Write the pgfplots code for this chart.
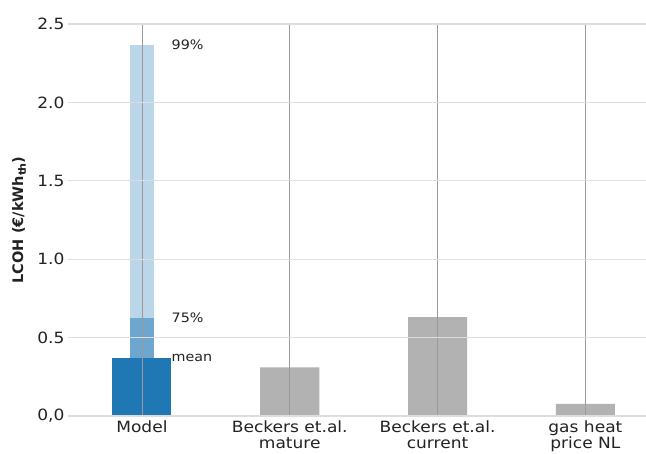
\documentclass[border=0pt]{standalone}
\usepackage{pgfplots}
\pgfplotsset{compat=1.18}
\usepackage{fontspec}
\setmainfont{DejaVu Sans}[FakeStretch=1.1]
\setsansfont{DejaVu Sans}[FakeStretch=1.1]
\newfontfamily\labelfont{DejaVu Sans}

\definecolor{modelblue}{HTML}{1F77B4}
\definecolor{refgray}{HTML}{B2B2B2}
\definecolor{vgrid}{HTML}{9A9A9A}
\definecolor{hgrid}{HTML}{DDDDDD}
\definecolor{labelgray}{HTML}{222222}

\begin{document}
\begin{tikzpicture}
\begin{axis}[
  at={(0pt,0pt)}, anchor=south west,
  scale only axis,
  width=578pt, height=392pt,
  xmin=-0.5, xmax=3.41,
  ymin=0, ymax=2.5,
  axis line style={draw=none},
  tick style={draw=none},
  axis on top,
  xtick={0,1,2,3},
  xticklabels={Model, {Beckers et.al.\\mature}, {Beckers et.al.\\current}, {gas heat\\price NL}},
  xticklabel style={align=center, font=\fontsize{15.5}{16.5}\selectfont, text=labelgray, yshift=-1pt},
  ytick={0,0.5,1,1.5,2,2.5},
  yticklabels={0{,}0, 0.5, 1.0, 1.5, 2.0, 2.5},
  yticklabel style={font=\fontsize{15.5}{17}\selectfont, text=labelgray},
  major tick length=0pt,
  xmajorgrids, ymajorgrids,
  x grid style={vgrid, line width=0.8pt},
  y grid style={hgrid, line width=1.2pt},
  ylabel={LCOH (€/kWh$_{\mathbf{th}}$)},
  every axis y label/.style={at={(axis description cs:0,0.5)}, rotate=90, anchor=center,
    yshift=49pt, font=\labelfont\bfseries\fontsize{14.5}{16}\selectfont, text=labelgray},
  /pgf/number format/assume math mode=true,
  clip=false,
]
% reference studies and gas price
\addplot[ybar, bar width=0.4, fill=refgray, draw=none, forget plot]
  coordinates {(1,0.31) (2,0.63) (3,0.078)};
% model: mean
\addplot[ybar, bar width=0.4, fill=modelblue, draw=none, forget plot]
  coordinates {(0,0.37)};
% model: spread from the mean up to the 99% and 75% quantiles
\addplot[fill=modelblue, fill opacity=0.3, draw=none, forget plot]
  coordinates {(-0.08,0.37) (0.08,0.37) (0.08,2.366) (-0.08,2.366)} -- cycle;
\addplot[fill=modelblue, fill opacity=0.5, draw=none, forget plot]
  coordinates {(-0.08,0.37) (0.08,0.37) (0.08,0.625) (-0.08,0.625)} -- cycle;

\node[anchor=west, inner sep=0pt, font=\fontsize{13}{15}\selectfont, text=labelgray] at (axis cs:0.2,2.366) {99\%};
\node[anchor=west, inner sep=0pt, font=\fontsize{13}{15}\selectfont, text=labelgray] at (axis cs:0.2,0.625) {75\%};
\node[anchor=west, inner sep=0pt, font=\fontsize{13}{15}\selectfont, text=labelgray] at (axis cs:0.2,0.37) {mean};
\end{axis}
\pgfresetboundingbox
\path[use as bounding box] (-68pt,-38pt) rectangle (578pt,416pt);
\end{tikzpicture}
\end{document}
